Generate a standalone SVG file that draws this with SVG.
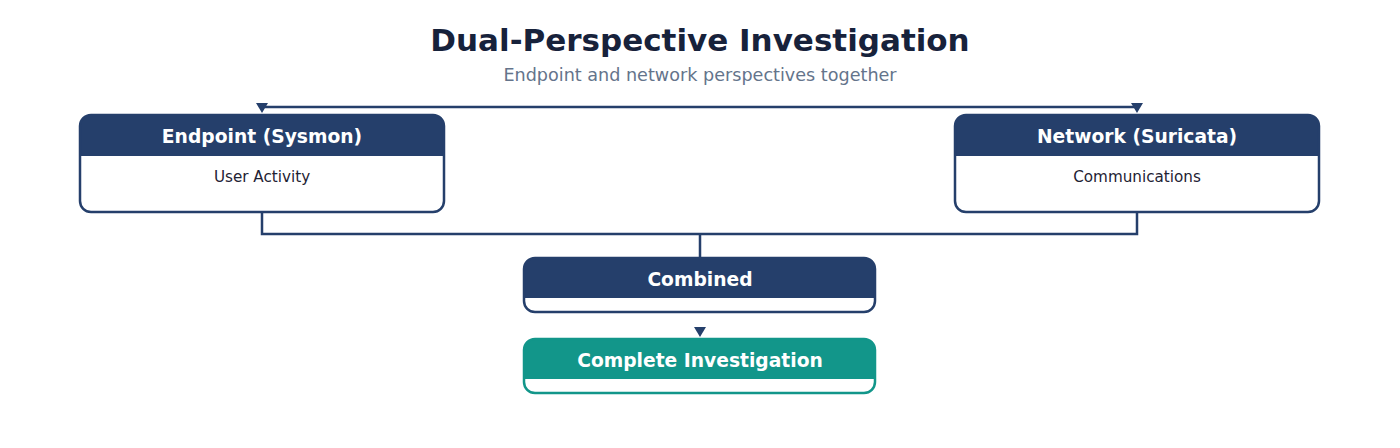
<svg xmlns="http://www.w3.org/2000/svg" width="1400" height="448" viewBox="0 0 1400 448">
<defs>
<style>
.title{font-family:"DejaVu Sans",sans-serif;font-weight:bold;font-size:31px;fill:#17223b;text-anchor:middle}
.sub{font-family:"DejaVu Sans",sans-serif;font-size:17.6px;fill:#64748b;text-anchor:middle}
.hdr{font-family:"DejaVu Sans",sans-serif;font-weight:bold;font-size:18.7px;fill:#ffffff;text-anchor:middle}
.body{font-family:"DejaVu Sans",sans-serif;font-size:15.2px;fill:#1e2233;text-anchor:middle}
.box{fill:none;stroke:#253f6b;stroke-width:2.5}
.boxt{fill:none;stroke:#12968a;stroke-width:2.5}
.bg{fill:#ffffff}
.head{fill:#253f6b}
.headt{fill:#12968a}
.conn{fill:none;stroke:#253f6b;stroke-width:2.5}
.arr{fill:#253f6b}
</style>
</defs>
<rect width="1400" height="448" fill="#ffffff"/>
<text class="title" x="700" y="51">Dual-Perspective Investigation</text>
<text class="sub" x="700" y="81">Endpoint and network perspectives together</text>
<g id="connectors">
<path class="conn" d="M262 110 L262 107 L1137 107 L1137 110"/>
<polygon class="arr" points="256,103 268,103 262,113"/>
<polygon class="arr" points="1131,103 1143,103 1137,113"/>
<path class="conn" d="M262 212 L262 234 L1137 234 L1137 212 M700 234 L700 258"/>
<polygon class="arr" points="694,327 706,327 700,337"/>
</g>
<g id="endpoint">
<rect class="bg" x="80" y="115" width="364" height="97" rx="11"/>
<path class="head" d="M80 156 V126 A11 11 0 0 1 91 115 H433 A11 11 0 0 1 444 126 V156 Z"/>
<rect class="box" x="80" y="115" width="364" height="97" rx="11"/>
<text class="hdr" x="262" y="143">Endpoint (Sysmon)</text>
<text class="body" x="262" y="182">User Activity</text>
</g>
<g id="network">
<rect class="bg" x="955" y="115" width="364" height="97" rx="11"/>
<path class="head" d="M955 156 V126 A11 11 0 0 1 966 115 H1308 A11 11 0 0 1 1319 126 V156 Z"/>
<rect class="box" x="955" y="115" width="364" height="97" rx="11"/>
<text class="hdr" x="1137" y="143">Network (Suricata)</text>
<text class="body" x="1137" y="182">Communications</text>
</g>
<g id="combined">
<rect class="bg" x="524" y="258" width="351" height="54" rx="11"/>
<path class="head" d="M524 298 V269 A11 11 0 0 1 535 258 H864 A11 11 0 0 1 875 269 V298 Z"/>
<rect class="box" x="524" y="258" width="351" height="54" rx="11"/>
<text class="hdr" x="700" y="286">Combined</text>
</g>
<g id="complete">
<rect class="bg" x="524" y="339" width="351" height="54" rx="11"/>
<path class="headt" d="M524 379 V350 A11 11 0 0 1 535 339 H864 A11 11 0 0 1 875 350 V379 Z"/>
<rect class="boxt" x="524" y="339" width="351" height="54" rx="11"/>
<text class="hdr" x="700" y="367">Complete Investigation</text>
</g>
</svg>
